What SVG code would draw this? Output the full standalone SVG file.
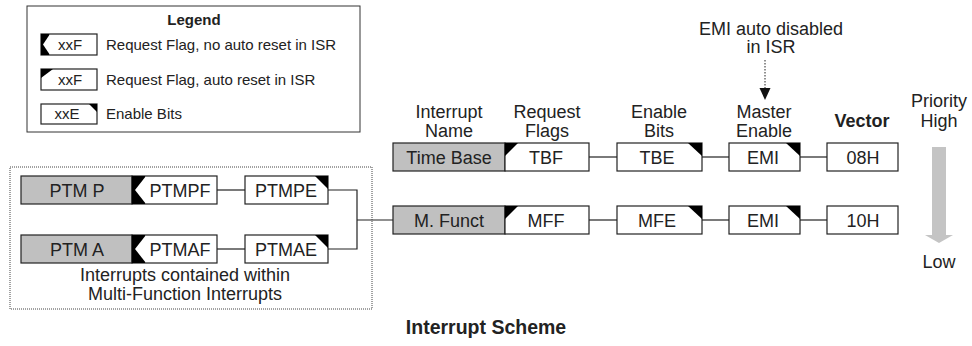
<svg xmlns="http://www.w3.org/2000/svg" width="972" height="346" viewBox="0 0 972 346">
<style>
text{font-family:"Liberation Sans",Arial,sans-serif;fill:#222}
.t{font-size:18px;text-anchor:middle}
.ti{font-size:19.5px;text-anchor:middle;font-weight:bold}
.lg{font-size:15px}
.lgc{font-size:15px;text-anchor:middle}
.b{font-weight:bold}
.box{fill:#fff;stroke:#222;stroke-width:1.2}
.gbox{fill:#c0c0c0;stroke:#222;stroke-width:1.2}
.mk{fill:#000}
.ln{fill:none;stroke:#222;stroke-width:1.2}
</style>
<rect x="0" y="0" width="972" height="346" fill="#fff"/>

<g id="legend">
<rect x="27" y="6" width="333" height="126" fill="#fff" stroke="#333" stroke-width="1"/>
<text x="194" y="25" class="lgc b">Legend</text>
<rect x="41" y="34" width="56" height="21" class="box"/>
<rect x="41" y="34" width="9" height="21" class="mk"/>
<polygon points="50,34 43,44.5 50,55" fill="#fff"/>
<text x="70" y="50" class="lgc">xxF</text>
<text x="106" y="50" class="lg">Request Flag, no auto reset in ISR</text>
<rect x="41" y="69" width="56" height="21" class="box"/>
<polygon points="41,69 53,69 41,78" class="mk"/>
<text x="70" y="85" class="lgc">xxF</text>
<text x="106" y="85" class="lg">Request Flag, auto reset in ISR</text>
<rect x="41" y="104" width="56" height="20" class="box"/>
<polygon points="89,104 97,104 97,112" class="mk"/>
<text x="67" y="119" class="lgc">xxE</text>
<text x="106" y="119" class="lg">Enable Bits</text>
</g>

<g id="headers">
<text x="449" y="118" class="t">Interrupt</text>
<text x="449" y="136.5" class="t">Name</text>
<text x="547" y="118" class="t">Request</text>
<text x="547" y="136.5" class="t">Flags</text>
<text x="659" y="118" class="t">Enable</text>
<text x="659" y="136.5" class="t">Bits</text>
<text x="764" y="118" class="t">Master</text>
<text x="764" y="136.5" class="t">Enable</text>
<text x="862" y="127" class="t b">Vector</text>
<text x="939" y="106.5" class="t">Priority</text>
<text x="939" y="126.5" class="t">High</text>
<text x="771" y="34.5" class="t">EMI auto disabled</text>
<text x="771" y="53" class="t">in ISR</text>
<text x="939" y="268" class="t">Low</text>
<text x="486" y="334" class="ti">Interrupt Scheme</text>
</g>

<g id="connectors">
<line x1="765" y1="60" x2="765" y2="89" stroke="#222" stroke-width="1" stroke-dasharray="1.5,1.5"/>
<polygon points="759.5,88 770.5,88 765,100" fill="#111"/>
<rect x="932" y="147" width="14" height="89" fill="#c4c4c4"/>
<polygon points="925,235 953,235 939,243" fill="#c4c4c4"/>
<line x1="589" y1="157" x2="617" y2="157" class="ln"/>
<line x1="702" y1="157" x2="729" y2="157" class="ln"/>
<line x1="800" y1="157" x2="827" y2="157" class="ln"/>
<line x1="589" y1="220" x2="617" y2="220" class="ln"/>
<line x1="702" y1="220" x2="729" y2="220" class="ln"/>
<line x1="800" y1="220" x2="827" y2="220" class="ln"/>
<line x1="217" y1="190" x2="245" y2="190" class="ln"/>
<line x1="217" y1="249" x2="245" y2="249" class="ln"/>
<polyline points="328,190 357,190 357,249 328,249" class="ln"/>
<line x1="357" y1="220" x2="393" y2="220" class="ln"/>
</g>

<g id="mf-container">
<rect x="10" y="167" width="362" height="142" fill="none" stroke="#444" stroke-width="1" stroke-dasharray="1,1"/>
<text x="185" y="281" class="t">Interrupts contained within</text>
<text x="185" y="299.5" class="t">Multi-Function Interrupts</text>
</g>

<g id="timebase">
<rect x="393" y="143" width="112" height="28" class="gbox"/>
<text x="449" y="163.5" class="t">Time Base</text>
</g>
<g id="tbf">
<rect x="505" y="143" width="84" height="28" class="box"/>
<polygon points="505,143 518,143 505,156" class="mk"/>
<text x="546" y="163.5" class="t">TBF</text>
</g>
<g id="tbe">
<rect x="617" y="143" width="85" height="28" class="box"/>
<polygon points="688,143 702,143 702,156" class="mk"/>
<text x="657" y="163.5" class="t">TBE</text>
</g>
<g id="emi1">
<rect x="729" y="143" width="71" height="28" class="box"/>
<polygon points="786,143 800,143 800,156" class="mk"/>
<text x="763" y="163.5" class="t">EMI</text>
</g>
<g id="v08">
<rect x="827" y="143" width="71" height="28" class="box"/>
<text x="863" y="163.5" class="t">08H</text>
</g>

<g id="mfunct">
<rect x="393" y="206" width="112" height="28" class="gbox"/>
<text x="449" y="226.5" class="t">M. Funct</text>
</g>
<g id="mff">
<rect x="505" y="206" width="84" height="28" class="box"/>
<polygon points="505,206 518,206 505,219" class="mk"/>
<text x="546" y="226.5" class="t">MFF</text>
</g>
<g id="mfe">
<rect x="617" y="206" width="85" height="28" class="box"/>
<polygon points="688,206 702,206 702,219" class="mk"/>
<text x="657" y="226.5" class="t">MFE</text>
</g>
<g id="emi2">
<rect x="729" y="206" width="71" height="28" class="box"/>
<polygon points="786,206 800,206 800,219" class="mk"/>
<text x="763" y="226.5" class="t">EMI</text>
</g>
<g id="v10">
<rect x="827" y="206" width="71" height="28" class="box"/>
<text x="863" y="226.5" class="t">10H</text>
</g>

<g id="ptmp">
<rect x="21" y="176" width="111" height="28" class="gbox"/>
<text x="77" y="196.5" class="t">PTM P</text>
</g>
<g id="ptmpf">
<rect x="132" y="176" width="85" height="28" class="box"/>
<rect x="132" y="176" width="14" height="28" class="mk"/>
<polygon points="146,176 135,190 146,204" fill="#fff"/>
<text x="180" y="196.5" class="t">PTMPF</text>
</g>
<g id="ptmpe">
<rect x="245" y="176" width="83" height="28" class="box"/>
<polygon points="315,176 328,176 328,189" class="mk"/>
<text x="286" y="196.5" class="t">PTMPE</text>
</g>
<g id="ptma">
<rect x="21" y="235" width="111" height="28" class="gbox"/>
<text x="77" y="255.5" class="t">PTM A</text>
</g>
<g id="ptmaf">
<rect x="132" y="235" width="85" height="28" class="box"/>
<rect x="132" y="235" width="14" height="28" class="mk"/>
<polygon points="146,235 135,249 146,263" fill="#fff"/>
<text x="180" y="255.5" class="t">PTMAF</text>
</g>
<g id="ptmae">
<rect x="245" y="235" width="83" height="28" class="box"/>
<polygon points="315,235 328,235 328,248" class="mk"/>
<text x="286" y="255.5" class="t">PTMAE</text>
</g>
</svg>
